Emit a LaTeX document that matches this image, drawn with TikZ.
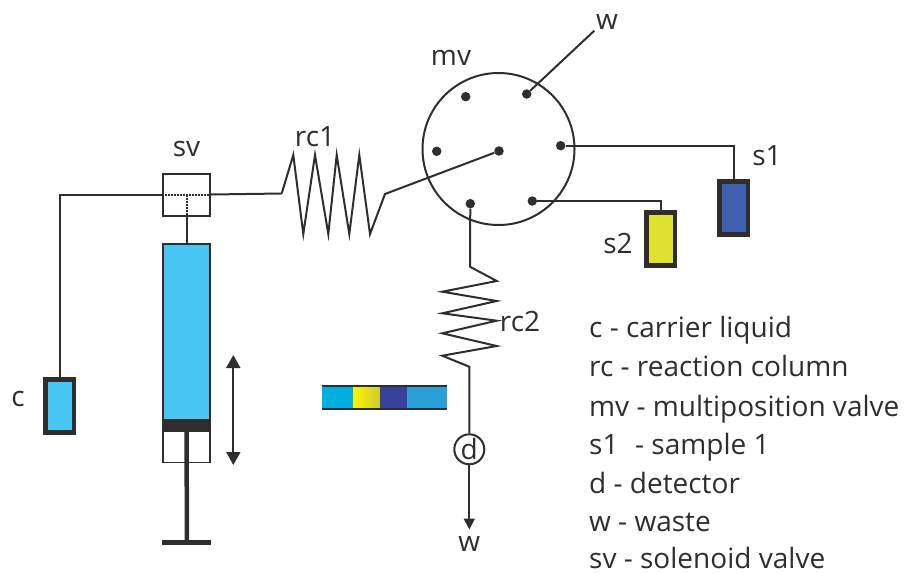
\documentclass[tikz,border=0pt]{standalone}
\usepackage{fontspec}
\setmainfont{Open Sans}
\usetikzlibrary{positioning,arrows.meta}

\definecolor{ink}{HTML}{2F2D2E}
\definecolor{liquid}{HTML}{46C6F0}
\definecolor{sampleone}{HTML}{3F60AE}
\definecolor{sampletwo}{HTML}{DFE22E}

\tikzset{
    wire/.style={draw=ink, line width=2pt},
    caption/.style={text=ink, inner sep=0pt, font=\fontsize{28}{30}\selectfont},
    vial/.style={draw=ink, line width=4.5pt, minimum width=28.5pt, minimum height=53pt, inner sep=0pt},
    port/.style={circle, fill=ink, minimum size=9.5pt, inner sep=0pt},
    slice/.style={minimum height=23pt, inner sep=0pt, outer sep=0pt},
    cell/.style={draw=ink, line width=2pt, fill=white, minimum width=47pt, inner sep=0pt},
}

\begin{document}
\begin{tikzpicture}[x=1pt, y=-1pt]
    \useasboundingbox (0,0) rectangle (913,573);

    % define nodes
    \node[cell, minimum height=42pt] (sv) at (186.5,194.5) {};
    \node[caption] (sv_l) at (186.5,149) {sv};
    \node[cell, fill=liquid, minimum height=176pt] (barrel) at (186.5,331.5) {};
    \node[cell, line width=1.5pt, minimum height=32pt] (stem) at (186.5,446.5) {};
    \node[cell, fill=ink, minimum height=10pt] (plunger) at (186.5,425.5) {};
    \coordinate (handle) at (187,542.5);
    \coordinate (stroke_a) at (233.3,355);
    \coordinate (stroke_b) at (233.3,465);

    \node[vial, fill=liquid] (c) at (59.5,406) {};
    \node[caption] (c_l) at (18,399) {c};

    \node[draw=ink, line width=2pt, circle, minimum size=152pt, inner sep=0pt] (mv) at (498.5,149) {};
    \node[caption] (mv_l) at (451,58) {mv};
    \node[port] (p_c) at (499,151) {};
    \node[port] (p_a) at (465.7,96.7) {};
    \node[port] (p_w) at (526.7,94) {};
    \node[port] (p_s1) at (560.7,145.7) {};
    \node[port] (p_s2) at (532.3,201) {};
    \node[port] (p_rc) at (470.3,203.7) {};
    \node[port] (p_b) at (436.7,151.3) {};

    \node[caption] (w_top) at (607,22) {w};
    \coordinate (w_end) at (594.3,30.7);

    \node[vial, fill=sampleone] (s1) at (733.5,208) {};
    \node[caption] (s1_l) at (767,156) {s1};
    \node[vial, fill=sampletwo] (s2) at (660.5,239) {};
    \node[caption] (s2_l) at (618,243) {s2};

    \coordinate (rc1_in) at (281.7,193.5);
    \coordinate (rc2_in) at (470,266.7);
    \node[caption] (rc1_l) at (315,137) {rc1};
    \node[caption] (rc2_l) at (520,321) {rc2};

    \node[caption, draw=ink, line width=2pt, circle, minimum size=30pt] (d) at (469.3,449.3) {d};
    \coordinate (w_tip) at (469.3,529.5);
    \node[caption] (w_bot) at (469.3,544) {w};

    % travelling sample plug
    \definecolor{plugone}{HTML}{00AEDF}
    \definecolor{plugtwo}{HTML}{37429A}
    \definecolor{plugthree}{HTML}{2A9FD8}
    \node[slice, fill=plugone, minimum width=31.6pt, anchor=west] (plug_a) at (321.7,397.3) {};
    \node[slice, left color=yellow!90!orange, right color=yellow!60!gray, minimum width=26.7pt, right=0pt of plug_a] (plug_b) {};
    \node[slice, fill=plugtwo, minimum width=27.3pt, right=0pt of plug_b] (plug_c) {};
    \node[slice, fill=plugthree, minimum width=40pt, right=0pt of plug_c] (plug_d) {};

    % legend
    \node[caption, anchor=base west] (leg_c) at (589,337) {c - carrier liquid};
    \node[caption, anchor=base west] (leg_rc) at (589,376) {rc - reaction column};
    \node[caption, anchor=base west] (leg_mv) at (589,416) {mv - multiposition valve};
    \node[caption, anchor=base west] (leg_s) at (589,454) {s1\,\, - sample 1};
    \node[caption, anchor=base west] (leg_d) at (589,493) {d - detector};
    \node[caption, anchor=base west] (leg_w) at (589,531) {w - waste};
    \node[caption, anchor=base west] (leg_sv) at (589,568) {sv - solenoid valve};

    % connect the nodes
    \draw[wire] (sv.west) -| (c.north);
    \draw[wire] (sv.south) -- (barrel.north);
    \draw[wire] (sv.east) -- (rc1_in);
    \draw[wire, densely dotted] (sv.west) -- (sv.east);
    \draw[wire, densely dotted] (sv.center) -- (sv.south);

    \draw[wire] (rc1_in) -- ++(11.6,-38.5) -- ++(10,79) -- ++(11.7,-79) -- ++(13.3,79)
        -- ++(8.4,-79) -- ++(12.6,79) -- ++(10,-79) -- ++(10.7,79) -- ++(15,-40) -- (p_c);

    \draw[wire] (p_rc) -- (rc2_in) -- ++(26.7,14.3) -- ++(-54.4,10.7) -- ++(54.4,9.3) -- ++(-54.4,12.3)
        -- ++(54.4,7.4) -- ++(-54.4,12.6) -- ++(54.4,12.7) -- ++(-54.4,9.7) -- ++(27,11) -- (d.north);

    \draw[wire, -{Triangle[width=11pt, length=11pt]}] (d.south) -- (w_tip);
    \draw[wire] (p_w) -- (w_end);
    \draw[wire] (p_s1) -| (s1.north);
    \draw[wire] (p_s2) -| (s2.north);

    \draw[draw=ink, line width=4.5pt] (plunger.south) -- (handle);
    \draw[draw=ink, line width=5pt] (handle -| barrel.west) -- (handle -| barrel.east);

    \draw[wire, {Triangle[width=14pt, length=13pt]}-{Triangle[width=14pt, length=13pt]}] (stroke_a) -- (stroke_b);

    \draw[wire] (plug_a.north west) -- (plug_d.north east);
    \draw[wire] (plug_a.south west) -- (plug_d.south east);

\end{tikzpicture}
\end{document}
